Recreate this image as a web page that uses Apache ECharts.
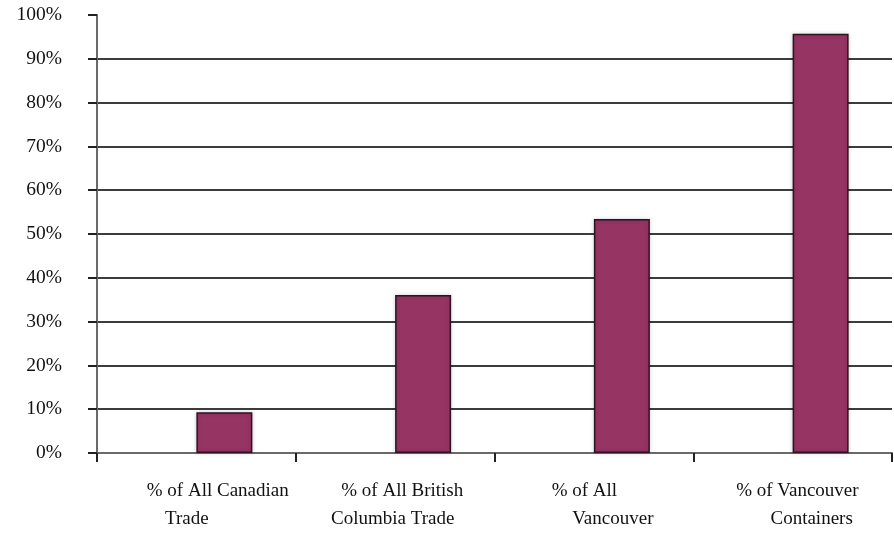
<!DOCTYPE html>
<html>
<head>
<meta charset="utf-8">
<script src="https://cdn.jsdelivr.net/npm/echarts@6/dist/echarts.min.js"></script>
<style>
  html, body { margin: 0; padding: 0; background: #ffffff; }
  #chart { width: 894px; height: 533px; }
</style>
</head>
<body>
<div id="chart"></div>
<script>
// Category labels (two lines each, spacing kept as in the source layout)
const categories = [
  '         % of All Canadian\nTrade    ',
  '   % of All British\nColumbia Trade ',
  '% of All    \n        Vancouver',
  '  % of Vancouver\n        Containers'
];
// Share of trade, percent
const shareValues = [9.3, 36.1, 53.4, 95.7];
// Empty companion series that keeps the bars to the right of each category centre
const companionValues = [];
// Y axis range and step (percent)
const yMin = 0;
const yMax = 100;
const yStep = 10;

const serif = '"Liberation Serif", "DejaVu Serif", serif';
const gridColors = [];
for (let v = yMin; v <= yMax; v += yStep) {
  gridColors.push(v === yMax ? 'rgba(0,0,0,0)' : '#3c3c3c');
}

const chart = echarts.init(document.getElementById('chart'), null, { renderer: 'canvas' });
chart.setOption({
  backgroundColor: '#ffffff',
  animation: false,
  grid: { left: 97, right: 2, top: 15, bottom: 77 },
  xAxis: {
    type: 'category',
    data: categories,
    boundaryGap: true,
    axisLine: { lineStyle: { color: '#6a6a6a', width: 2 } },
    axisTick: { show: true, alignWithLabel: false, length: 9, lineStyle: { color: '#222', width: 2 } },
    axisLabel: {
      interval: 0,
      margin: 24,
      color: '#111',
      fontFamily: serif,
      fontSize: 19,
      lineHeight: 28
    },
    splitLine: { show: false }
  },
  yAxis: {
    type: 'value',
    min: yMin,
    max: yMax,
    interval: yStep,
    axisLine: { show: true, lineStyle: { color: '#6a6a6a', width: 2 } },
    axisTick: { show: true, inside: false, length: 9, lineStyle: { color: '#222', width: 2 } },
    axisLabel: {
      margin: 35,
      color: '#111',
      fontFamily: serif,
      fontSize: 19.5,
      padding: [4, 0, 0, 0],
      formatter: v => v + '%'
    },
    splitLine: { show: true, lineStyle: { color: gridColors, width: 2 } }
  },
  series: [
    {
      type: 'bar',
      name: 'companion',
      data: companionValues,
      barWidth: 56,
      barGap: '0%'
    },
    {
      type: 'bar',
      name: 'share',
      data: shareValues,
      barWidth: 56,
      barGap: '0%',
      itemStyle: {
        color: '#963464',
        borderColor: '#2b1420',
        borderWidth: 1.5,
        shadowColor: 'rgba(0,0,0,0.18)',
        shadowBlur: 4
      }
    }
  ]
});
</script>
</body>
</html>
